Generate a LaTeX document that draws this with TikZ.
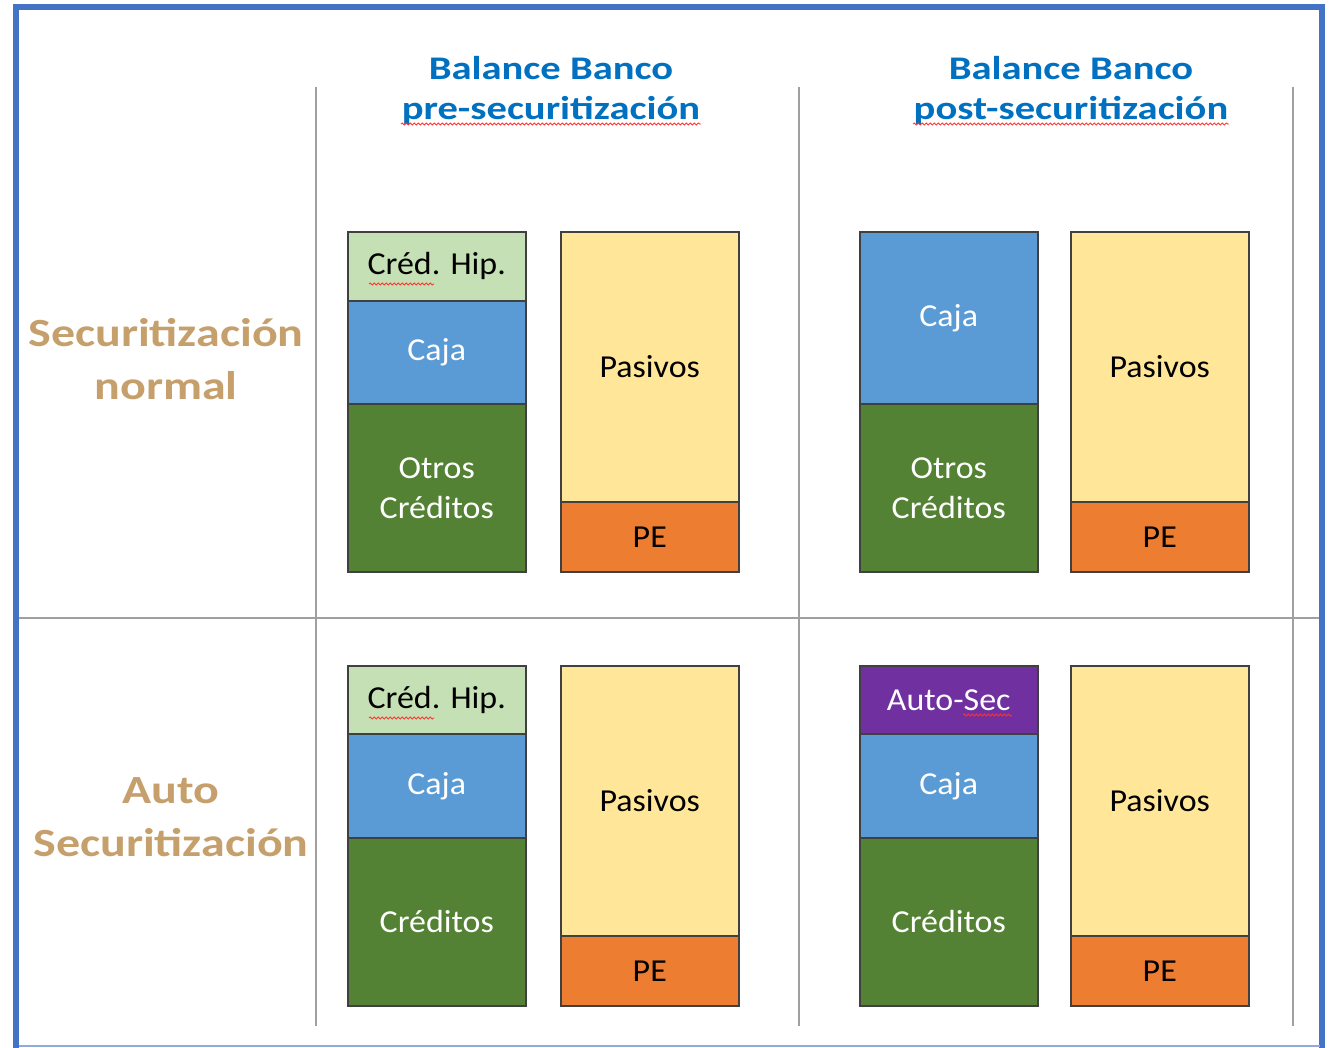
\documentclass[tikz,border=0pt]{standalone}
\usepackage{fontspec}
\setmainfont{Carlito}
\newfontfamily\titlefont[FakeStretch=1.23]{Carlito}
\newfontfamily\rowfont[FakeStretch=1.2]{Carlito}
\newfontfamily\boxfont[FakeStretch=1.06]{Carlito}
\usetikzlibrary{decorations.pathmorphing}
\definecolor{frameblue}{HTML}{4472C4}
\definecolor{titleblue}{HTML}{0070C0}
\definecolor{tan}{RGB}{198,160,108}
\definecolor{hipgreen}{HTML}{C5E0B4}
\definecolor{cajablue}{HTML}{5B9BD5}
\definecolor{credgreen}{HTML}{548235}
\definecolor{pasyellow}{HTML}{FFE699}
\definecolor{peorange}{HTML}{ED7D31}
\definecolor{secpurple}{HTML}{7030A0}
\definecolor{gridgray}{HTML}{A0A0A0}
\begin{document}
\begin{tikzpicture}[x=1pt,y=-1pt,
  blk/.style={draw=black!75, line width=1.5pt, anchor=north west, inner sep=0pt,
    minimum width=178pt, align=center, font=\boxfont\fontsize{32}{40}\selectfont},
  wtxt/.style={text=white},
  btxt/.style={text=black},
  title/.style={align=center, text=titleblue, font=\titlefont\fontsize{33}{40}\selectfont\bfseries},
  rowlab/.style={align=center, text=tan, font=\rowfont\fontsize{40}{53}\selectfont\bfseries},
  grid/.style={draw=gridgray, line width=1.5pt},
  squig/.style={draw=red!80, line width=0.8pt, decorate, decoration={snake, amplitude=1.1pt, segment length=4pt}}
]
\useasboundingbox (0,0) rectangle (1329,1047);
\begin{scope}
\clip (0,0) rectangle (1329,1047);
\draw[frameblue, line width=6pt] (16,7) rectangle (1322,1070);
\end{scope}
\draw[frameblue!60, line width=1.2pt] (19,1046) -- (1320,1046);

% grid
\coordinate (v1t) at (316,87); \coordinate (v1b) at (316,1026);
\coordinate (v2t) at (799,87); \coordinate (v2b) at (799,1026);
\coordinate (v3t) at (1293,87); \coordinate (v3b) at (1293,1026);
\coordinate (hl) at (19,618); \coordinate (hr) at (1319,618);
\draw[grid] (v1t) -- (v1b);
\draw[grid] (v2t) -- (v2b);
\draw[grid] (v3t) -- (v3b);
\draw[grid] (hl) -- (hr);

% titles
\node[title] (t1) at (551,91) {Balance Banco\\pre-securitización};
\node[title] (t2) at (1071,91) {Balance Banco\\post-securitización};
\draw[squig] (401,124) -- (701,124);
\draw[squig] (913,124) -- (1229,124);

% row labels
\node[rowlab] (r1) at (166,359) {Securitización\\normal};
\node[rowlab] (r2) at (171,817) {Auto\\Securitización};

% top-left balance
\node[blk, fill=hipgreen, btxt, minimum height=69pt] (a1) at (347,231) {Créd. Hip.};
\node[blk, fill=cajablue, wtxt, minimum height=103pt] (a2) at (347,300) {Caja};
\node[blk, fill=credgreen, wtxt, minimum height=168pt] (a3) at (347,403) {Otros\\Créditos};
\node[blk, fill=pasyellow, btxt, minimum height=270pt] (a4) at (560,231) {Pasivos};
\node[blk, fill=peorange, btxt, minimum height=70pt] (a5) at (560,501) {PE};
\draw[squig] (369,284) -- (434,284);

% top-right balance
\node[blk, fill=cajablue, wtxt, minimum height=172pt] (b2) at (859,231) {Caja};
\node[blk, fill=credgreen, wtxt, minimum height=168pt] (b3) at (859,403) {Otros\\Créditos};
\node[blk, fill=pasyellow, btxt, minimum height=270pt] (b4) at (1070,231) {Pasivos};
\node[blk, fill=peorange, btxt, minimum height=70pt] (b5) at (1070,501) {PE};

% bottom-left balance
\node[blk, fill=hipgreen, btxt, minimum height=68pt] (c1) at (347,665) {Créd. Hip.};
\node[blk, fill=cajablue, wtxt, minimum height=104pt] (c2) at (347,733) {Caja};
\node[blk, fill=credgreen, wtxt, minimum height=168pt] (c3) at (347,837) {Créditos};
\node[blk, fill=pasyellow, btxt, minimum height=270pt] (c4) at (560,665) {Pasivos};
\node[blk, fill=peorange, btxt, minimum height=70pt] (c5) at (560,935) {PE};
\draw[squig] (369,718) -- (434,718);

% bottom-right balance
\node[blk, fill=secpurple, wtxt, minimum height=68pt] (d1) at (859,665) {Auto-Sec};
\node[blk, fill=cajablue, wtxt, minimum height=104pt] (d2) at (859,733) {Caja};
\node[blk, fill=credgreen, wtxt, minimum height=168pt] (d3) at (859,837) {Créditos};
\node[blk, fill=pasyellow, btxt, minimum height=270pt] (d4) at (1070,665) {Pasivos};
\node[blk, fill=peorange, btxt, minimum height=70pt] (d5) at (1070,935) {PE};
\draw[squig] (963,715) -- (1012,715);
\end{tikzpicture}
\end{document}
